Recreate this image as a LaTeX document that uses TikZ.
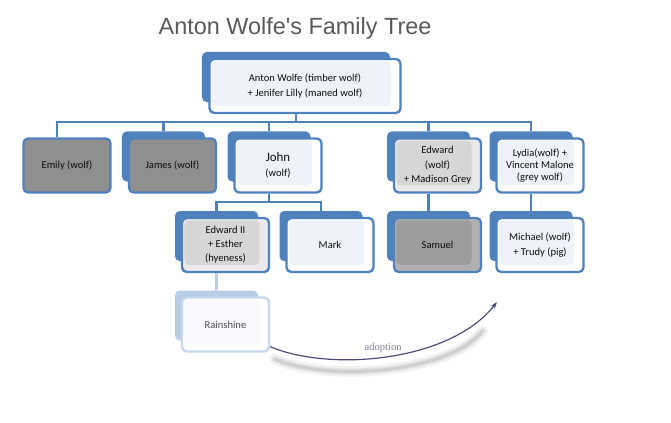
\documentclass[tikz,border=0pt]{standalone}
\usepackage{fontspec}
\setmainfont{Carlito}
\newfontfamily\titlefont{Liberation Sans}
\newfontfamily\notefont{Liberation Serif}
\usetikzlibrary{arrows.meta}

\definecolor{boxblue}{HTML}{4F81BD}
\definecolor{cardin}{HTML}{EEF3FA}
\definecolor{paleblue}{HTML}{B9CDE5}
\definecolor{paleedge}{HTML}{C8D8EC}
\definecolor{lightgrey}{HTML}{D6D6D6}
\definecolor{lightband}{HTML}{EAEAEA}
\definecolor{darkgrey}{HTML}{8F8F8F}
\definecolor{midgrey}{HTML}{9C9C9C}
\definecolor{midband}{HTML}{B0B0B0}
\definecolor{titlegrey}{HTML}{595959}
\definecolor{notegrey}{HTML}{7F7F9A}
\definecolor{arrowblue}{HTML}{4A4A78}

\begin{document}
\begin{tikzpicture}[
    x=0.03cm, y=-0.03cm,
    back/.style = {
        fill=boxblue,
        rounded corners=4pt,
        minimum width=2.49cm,
        minimum height=1.5cm,
        inner sep=0pt
    },
    inset/.style = {
        path picture={
            \fill[#1] ([shift={(2pt,6pt)}]path picture bounding box.south west)
                rectangle ([shift={(-8pt,-2pt)}]path picture bounding box.north east);
        }
    },
    card/.style = {
        draw=boxblue,
        line width=2pt,
        rounded corners=4pt,
        fill=white,
        inset=cardin,
        align=center,
        text=black!95,
        font=\fontsize{9}{13}\selectfont,
        minimum width=2.61cm,
        minimum height=1.62cm,
        inner sep=2pt
    },
    dark/.style  = {card, fill=darkgrey, inset=darkgrey},
    mid/.style   = {card, fill=midband, inset=midgrey},
    light/.style = {card, fill=lightband, inset=lightgrey},
    link/.style  = {draw=boxblue, line width=2.2pt},
    adopt arrow/.style = {-{Stealth[length=6pt, width=4pt]}, arrowblue, line width=1pt}
]

\path[use as bounding box] (0,0) rectangle (671,423);

%% -- Title ------------------------------------------------------------------

\node[font=\titlefont\fontsize{20}{24}\selectfont, text=titlegrey, anchor=base]
    (title) at (295,35) {Anton Wolfe's Family Tree};

%% -- Back boxes -------------------------------------------------------------

\node[back, minimum width=5.64cm] (topbk) at (296,77) {};

\node[back] (jamesbk)   at (163.5,156.5) {};
\node[back] (johnbk)    at (269,156.5)   {};
\node[back] (edwardbk)  at (428.5,156.5) {};
\node[back] (lydiabk)   at (531,156.5)   {};

\node[back] (ediibk)    at (216.5,236) {};
\node[back] (markbk)    at (321,236)   {};
\node[back] (samuelbk)  at (428.5,236) {};
\node[back] (michaelbk) at (531,236)   {};

\node[back, fill=paleblue] (rainbk) at (216.5,315.5) {};

%% -- Cards ------------------------------------------------------------------

\node[card, minimum width=5.73cm] (top) at ([shift={(9,9)}]topbk)
    {Anton Wolfe (timber wolf)\\+ Jenifer Lilly (maned wolf)};

\node[dark] (emily) at (67,165.5) {Emily (wolf)};
\node[dark] (james) at ([shift={(9,9)}]jamesbk) {James (wolf)};
\node[card] (john) at ([shift={(9,9)}]johnbk)
    {{\fontsize{11}{13}\selectfont John}\\(wolf)};
\node[light, font=\fontsize{9}{12.5}\selectfont] (edward) at ([shift={(9,9)}]edwardbk)
    {Edward\\(wolf)\\+ Madison Grey};
\node[card, font=\fontsize{9}{10.5}\selectfont] (lydia) at ([shift={(9,9)}]lydiabk)
    {Lydia(wolf) +\\Vincent Malone\\(grey wolf)};

\node[light, font=\fontsize{9}{12}\selectfont] (edii) at ([shift={(9,9)}]ediibk)
    {Edward II\\+ Esther\\(hyeness)};
\node[card] (mark) at ([shift={(9,9)}]markbk) {Mark};
\node[mid] (samuel) at ([shift={(9,9)}]samuelbk) {Samuel};
\node[card, font=\fontsize{9}{13.5}\selectfont] (michael) at ([shift={(9,9)}]michaelbk)
    {Michael (wolf)\\+ Trudy (pig)};

\node[card, draw=paleedge, inset=white!60!cardin, text=black!70] (rain)
    at ([shift={(9,9)}]rainbk) {Rainshine};

%% -- Connectors -------------------------------------------------------------

\coordinate (bus1) at (296,122);
\coordinate (bus2) at (269,202);

\draw[link] (topbk |- top.south) -- (bus1);
\draw[link] ([shift={(-10,0)}]emily.north) |- (bus1) -| (lydiabk.north);
\foreach \c in {jamesbk, johnbk, edwardbk}
    \draw[link] (bus1 -| \c) -- (\c.north);

\draw[link] (johnbk |- john.south) -- (bus2);
\draw[link] (ediibk.north) |- (bus2) -| (markbk.north);
\draw[link] (edwardbk |- edward.south) -- (samuelbk.north);
\draw[link] (lydiabk |- lydia.south) -- (michaelbk.north);
\draw[link, draw=paleblue] (ediibk |- edii.south) -- (rainbk.north);

%% -- Adoption ---------------------------------------------------------------

\coordinate (adopt) at (497,302);

% soft shadow under the arrow
\foreach \w/\o in {9pt/0.05, 5pt/0.07, 2.5pt/0.08}
    \draw[black, line width=\w, opacity=\o, line cap=round, transform canvas={yshift=-9pt},
          shorten <=4pt, shorten >=20pt]
        ([shift={(0,-6)}]rain.south east) .. controls (330,372) and (450,362) .. (adopt);

\draw[adopt arrow] ([shift={(0,-6)}]rain.south east) .. controls (330,372) and (450,362) .. (adopt)
    node[pos=0.48, above=0pt, font=\notefont\fontsize{9}{11}\selectfont, text=notegrey]
    (adlabel) {adoption};

\end{tikzpicture}
\end{document}
